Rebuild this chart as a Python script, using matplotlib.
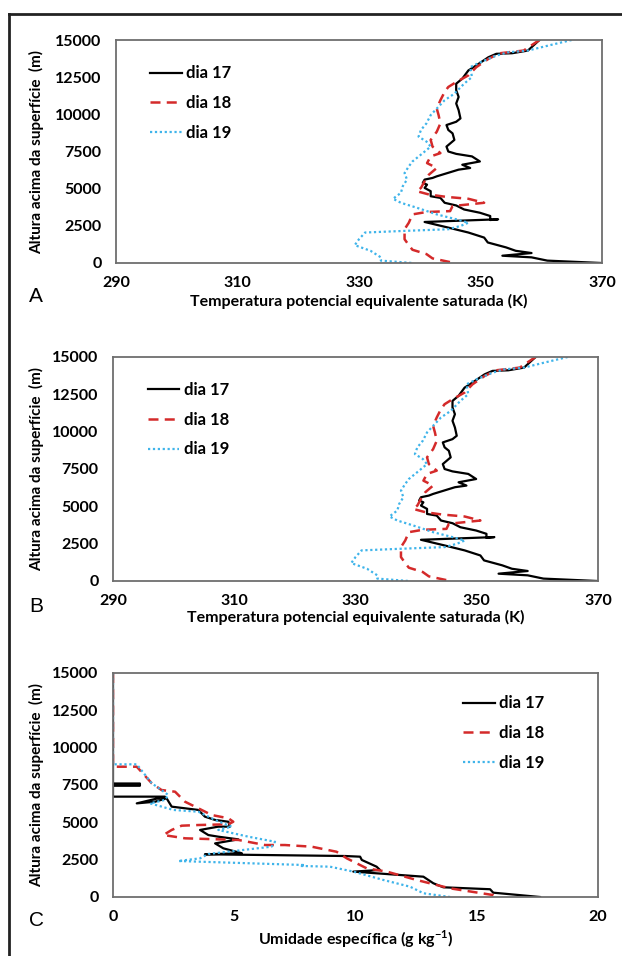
import numpy as np
import matplotlib
matplotlib.use('Agg')
import matplotlib.pyplot as plt
from matplotlib.lines import Line2D

"""
Perfis verticais dos dias 17, 18 e 19
A e B: temperatura potencial equivalente saturada
C: umidade especifica
"""

plt.rcParams['font.family'] = ['Lato', 'DejaVu Sans']
plt.rcParams['mathtext.fontset'] = 'custom'
plt.rcParams['mathtext.rm'] = 'Lato'
plt.rcParams['mathtext.bf'] = 'Lato:bold'

# temperatura potencial equivalente saturada (K) x altura (m)
z_d17 = [15000, 14290, 14110, 14070, 13840, 13290, 12950, 12400, 12060, 11620,
         11170, 10730, 10280, 9725, 9500, 9280, 8950, 8720, 8280, 7830, 7500,
         7340, 7170, 6830, 6610, 6390, 6280, 5830, 5720, 5610, 5390, 5270, 5050,
         4830, 4490, 4380, 4050, 3870, 3600, 3380, 3160, 2890, 2940, 2760, 2380,
         2050, 1710, 1380, 1050, 820, 670, 490, 380, 160, 0]
te_d17 = [359.7, 357.8, 355.2, 352.6, 351.3, 349.3, 348.0, 347.0, 346.0, 346.0,
          346.4, 346.0, 346.4, 346.7, 346.0, 344.4, 344.7, 345.4, 345.7, 344.4, 344.7,
          346.0, 348.6, 349.9, 347.0, 348.3, 346.4, 342.8, 342.1, 340.8, 340.5, 341.2, 340.8,
          341.8, 341.8, 343.4, 344.1, 346.0, 347.3, 349.9, 351.6, 351.6, 352.9, 340.8, 344.7,
          348.0, 350.6, 351.2, 354.2, 355.8, 358.4, 353.6, 358.4, 361.0, 369.9]

z_d18 = [15000, 14290, 14110, 13730, 13170, 12620, 12170, 11840, 11510, 10950,
         10390, 9950, 9390, 8830, 8280, 7830, 7390, 7170, 6720, 6390, 5940, 5500,
         5050, 4830, 4610, 4450, 4320, 4050, 3830, 3490, 3430, 3270, 2710, 2270,
         1600, 1200, 890, 600, 310, 0]
te_d18 = [359.7, 357.1, 353.2, 351.3, 349.3, 348.0, 346.0, 344.7, 344.1, 343.4,
          342.8, 343.1, 343.4, 342.8, 341.8, 342.1, 343.4, 341.8, 341.2, 342.8, 341.5, 340.8,
          340.2, 339.5, 341.5, 344.3, 348.0, 350.6, 345.4, 345.0, 341.1, 338.8, 338.2, 337.5,
          337.5, 338.2, 338.8, 341.1, 342.1, 345.7]

z_d19 = [15000, 14620, 14290, 14170, 13950, 13510, 13170, 12510, 12060, 11390,
         10950, 10390, 9950, 9390, 8950, 8500, 8170, 7830, 7390, 6830, 6500, 6050,
         5610, 5160, 4720, 4320, 4050, 3720, 3270, 2940, 2710, 2490, 2270, 2160,
         2050, 1600, 1200, 820, 380, 160, 0]
te_d19 = [365.0, 361.1, 357.8, 354.5, 352.6, 350.0, 348.3, 348.6, 347.3, 345.7,
          344.1, 342.8, 341.8, 341.1, 340.2, 339.8, 341.1, 341.8, 340.5, 338.8, 338.2, 337.5,
          337.9, 337.2, 336.9, 335.6, 336.9, 339.5, 342.8, 346.0, 348.0, 346.7, 344.7, 337.5,
          331.0, 330.0, 329.3, 331.9, 333.6, 333.6, 338.8]

# umidade especifica (g/kg) x altura (m)
zq_d17 = [15000, 7600, 7600, 7450, 7450, 6720, 6720, 6270, 6380, 6610, 6050, 5830,
          5380, 5160, 5040, 4710, 4710, 4490, 4150, 4040, 3860, 3590, 3260, 2930,
          2860, 2745, 2700, 2480, 2030, 1810, 1700, 1360, 920, 650, 520, 290, 0]
q_d17 = [0.0, 0.0, 1.11, 1.11, 0.0, 0.0, 2.14, 0.98, 1.73, 2.21, 2.42, 3.52,
         3.79, 4.21, 4.76, 4.82, 4.34, 3.59, 3.93, 4.34, 5.17, 4.21, 4.55, 5.31,
         3.79, 9.57, 10.19, 10.26, 10.87, 11.01, 9.91, 12.80, 13.21, 13.62, 15.55, 15.68, 17.61]

zq_d18 = [15000, 8725, 8725, 7610, 7165, 7050, 6380, 5940, 5490, 5270, 5040, 4870,
          4820, 4775, 4490, 4150, 3930, 3820, 3480, 3480, 3370, 3030, 2590, 1920,
          1700, 1140, 580, 130, 0]
q_d18 = [0.0, 0.0, 0.98, 1.60, 2.00, 2.56, 2.97, 3.52, 4.07, 4.76, 4.96, 4.76,
         3.52, 2.83, 2.42, 2.08, 2.97, 5.17, 6.27, 7.09, 8.19, 9.22, 9.64, 10.46,
         11.29, 12.52, 13.90, 15.68, 15.82]

zq_d19 = [15000, 8885, 8885, 7610, 7390, 6830, 6500, 6270, 5830, 5710, 5160, 4710,
          4490, 4040, 3700, 3370, 2880, 2590, 2410, 2140, 2080, 2030, 1700, 1140,
          690, 250, 0]
q_d19 = [0.0, 0.0, 0.98, 1.60, 1.80, 2.28, 2.14, 1.53, 2.49, 3.52, 4.21, 4.89,
         4.34, 5.58, 6.68, 6.54, 3.93, 3.59, 2.69, 7.92, 7.71, 8.95, 9.91, 11.15,
         12.25, 12.80, 13.90]

labels = ['dia 17', 'dia 18', 'dia 19']
ylabel = 'Altura acima da superfície  (m)'
xlabel_te = 'Temperatura potencial equivalente saturada (K)'
xlabel_q = r'Umidade específica (g kg$^{\mathbf{-1}}$)'

styles = [dict(color='black', linestyle='-', linewidth=1.6),
          dict(color='#d42a2a', linestyle=(0, (4, 2.5)), linewidth=1.8),
          dict(color='#3fb4ea', linestyle=(0, (1, 1.2)), linewidth=1.6)]


def format_axis(ax, xlim, xticks, xlabel, xlab_y, ylab_x):
    ax.set_xlim(*xlim)
    ax.set_ylim(0, 15000)
    ax.set_xticks(xticks)
    ax.set_yticks(np.arange(0, 15001, 2500))
    ax.tick_params(length=0, labelsize=11.5)
    ax.tick_params(axis='x', pad=9.5)
    ax.tick_params(axis='y', pad=10.5)
    for lab in ax.get_xticklabels() + ax.get_yticklabels():
        lab.set_fontweight('bold')
    for sp in ax.spines.values():
        sp.set_color('#6e6e6e')
        sp.set_linewidth(1.3)
    ax.set_xlabel(xlabel, fontsize=11.5, fontweight='bold')
    ax.set_ylabel(ylabel, fontsize=11, fontweight='bold')
    ax.xaxis.set_label_coords(0.5, xlab_y)
    ax.yaxis.set_label_coords(ylab_x, 0.5)


fig = plt.figure(figsize=(6.22, 9.56), dpi=100)

axA = fig.add_axes([116/622, 1 - 263/956, 486/622, 223/956])
axB = fig.add_axes([113/622, 1 - 581/956, 485/622, 224/956])
axC = fig.add_axes([113/622, 1 - 897/956, 485/622, 224/956])

for ax in (axA, axB):
    for z, t, lab, st in zip([z_d17, z_d18, z_d19], [te_d17, te_d18, te_d19], labels, styles):
        ax.plot(t, z, label=lab, **st)

for z, q, lab, st in zip([zq_d17, zq_d18, zq_d19], [q_d17, q_d18, q_d19], labels, styles):
    axC.plot(q, z, label=lab, **st)

format_axis(axA, (290, 370), np.arange(290, 371, 20), xlabel_te, -0.139, -0.148)
format_axis(axB, (290, 370), np.arange(290, 371, 20), xlabel_te, -0.129, -0.142)
format_axis(axC, (0, 20), np.arange(0, 21, 5), xlabel_q, -0.14, -0.142)

leg_kw = dict(frameon=False, handlelength=1.9, handletextpad=0.25,
              labelspacing=0.82, borderaxespad=0, borderpad=0,
              prop={'weight': 'bold', 'size': 12})
axA.legend(loc='upper left', bbox_to_anchor=(0.07, 0.886), **leg_kw)
axB.legend(loc='upper left', bbox_to_anchor=(0.0715, 0.888), **leg_kw)
axC.legend(loc='upper left', bbox_to_anchor=(0.722, 0.90), **leg_kw)

# letras dos paineis
for letter, y in [('A', 296), ('B', 606), ('C', 921)]:
    fig.text(36/622, 1 - y/956, letter, fontsize=15, ha='center', va='center',
             family=['Liberation Sans', 'DejaVu Sans'])

# moldura externa
fig.add_artist(Line2D([9/622, 1], [1 - 14/956, 1 - 14/956], transform=fig.transFigure,
                      color='#222222', linewidth=2))
fig.add_artist(Line2D([9/622, 9/622], [0, 1 - 14/956], transform=fig.transFigure,
                      color='#222222', linewidth=2))

fig.savefig('out.png', dpi=100)
